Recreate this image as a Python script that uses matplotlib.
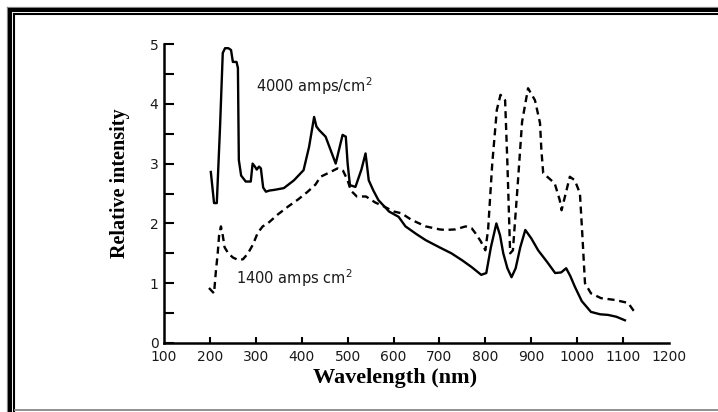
import matplotlib.pyplot as plt
from matplotlib.lines import Line2D

# 4000 amps/cm2 (solid)
wl_hi = [202, 209, 215, 222, 228, 233, 240, 246, 250, 252, 258, 261, 263, 268, 278, 289, 293, 298,
         302, 307, 311, 316, 322, 330, 340, 361, 383, 404, 416, 427, 432, 438, 452, 474, 489, 496,
         500, 505, 517, 530, 539, 546, 556, 567, 590, 611, 626, 650, 670, 700, 726, 750, 770, 791,
         802, 812, 824, 832, 839, 848, 857, 866, 876, 887, 900, 915, 935, 952, 965, 976, 985, 995,
         1010, 1030, 1050, 1067, 1085, 1104]
int_hi = [2.86, 2.34, 2.34, 3.6, 4.85, 4.93, 4.93, 4.9, 4.7, 4.7, 4.7, 4.6, 3.06, 2.8, 2.7, 2.7, 3.0, 2.95,
          2.9, 2.95, 2.92, 2.6, 2.53, 2.55, 2.56, 2.59, 2.72, 2.89, 3.28, 3.78, 3.62, 3.56, 3.45, 3.0, 3.48, 3.45,
          3.0, 2.64, 2.61, 2.9, 3.17, 2.72, 2.55, 2.39, 2.2, 2.11, 1.95, 1.82, 1.72, 1.6, 1.5, 1.38, 1.27, 1.14,
          1.17, 1.6, 2.0, 1.8, 1.5, 1.25, 1.1, 1.25, 1.6, 1.89, 1.75, 1.55, 1.35, 1.17, 1.18, 1.25, 1.12, 0.94,
          0.7, 0.52, 0.48, 0.47, 0.44, 0.38]

# 1400 amps/cm2 (dashed)
wl_lo = [198, 209, 213, 217, 220, 224, 228, 232, 240, 250, 261, 272, 283, 294, 304, 315, 326, 348,
         370, 392, 413, 430, 441, 460, 478, 490, 500, 507, 520, 540, 560, 580, 600, 617, 639, 670,
         700, 713, 735, 757, 770, 778, 790, 800, 806, 815, 825, 833, 843, 848, 854, 860, 870, 880,
         893, 908, 919, 922, 926, 951, 962, 966, 984, 995, 1006, 1011, 1017, 1030, 1052, 1082,
         1111, 1122, 1128]
int_lo = [0.92, 0.83, 1.2, 1.5, 1.8, 1.95, 1.8, 1.6, 1.5, 1.43, 1.39, 1.4, 1.5, 1.65, 1.84, 1.95, 2.0, 2.15,
          2.28, 2.4, 2.53, 2.65, 2.78, 2.85, 2.92, 2.88, 2.72, 2.55, 2.45, 2.45, 2.35, 2.28, 2.2, 2.17, 2.06, 1.95,
          1.9, 1.89, 1.9, 1.95, 1.92, 1.84, 1.7, 1.55, 1.9, 3.0, 3.9, 4.15, 4.06, 3.0, 1.5, 1.55, 2.6, 3.7,
          4.26, 4.06, 3.68, 3.23, 2.84, 2.67, 2.39, 2.22, 2.78, 2.72, 2.5, 1.84, 1.0, 0.83, 0.75, 0.72,
          0.67, 0.55, 0.5]

x_ticks = [100, 200, 300, 400, 500, 600, 700, 800, 900, 1000, 1100, 1200]
y_ticks = [0, 1, 2, 3, 4, 5]

W, H = 718, 412
fig = plt.figure(figsize=(W / 100, H / 100), dpi=100)

def fx(px):
    return px / W

def fy(py):
    return 1 - py / H

# double border (top and left, bottom thin grey)
for lw, c, off in [(0.9, '#888888', 7.0), (2.9, 'black', 9.5), (1.5, 'black', 13.8)]:
    fig.add_artist(Line2D([fx(off), fx(off)], [fy(off), 0], lw=lw, color=c))
    fig.add_artist(Line2D([fx(off), 1], [fy(off), fy(off)], lw=lw, color=c))
fig.add_artist(Line2D([fx(15), 1], [fy(409.5), fy(409.5)], lw=1.3, color='#888888'))

ax = fig.add_axes([fx(164), fy(343), fx(669) - fx(164), fy(44) - fy(343)])
ax.plot(wl_hi, int_hi, color='black', lw=1.7)
ax.plot(wl_lo, int_lo, color='black', lw=1.7, ls=(0, (3, 2)))

ax.set_xlim(100, 1200)
ax.set_ylim(0, 5)
ax.spines['top'].set_visible(False)
ax.spines['right'].set_visible(False)
ax.spines['left'].set_linewidth(1.8)
ax.spines['bottom'].set_linewidth(1.8)

ax.set_xticks(x_ticks)
ax.set_xticklabels([str(t) for t in x_ticks])
ax.set_yticks(y_ticks)
ax.set_yticks([0.5, 1.5, 2.5, 3.5, 4.5], minor=True)
ax.tick_params(axis='x', direction='in', length=4, width=1.5, pad=5, labelsize=10, labelcolor='#1a1a1a')
ax.tick_params(axis='y', direction='in', length=7, width=1.5, pad=4, labelsize=10, labelcolor='#1a1a1a')
ax.tick_params(axis='y', which='minor', direction='in', length=7, width=1.5)
ax.xaxis.get_ticklines()[0].set_visible(False)
ax.xaxis.get_ticklines()[-2].set_visible(False)

ax.set_xlabel('Wavelength (nm)', family='Liberation Serif', weight='bold', fontsize=16, labelpad=3)
ax.set_ylabel('Relative intensity', family='Liberation Serif', weight='bold', fontsize=14.5, labelpad=14)
ax.xaxis.label.set_x(0.457)
ax.yaxis.label.set_y(0.535)

ax.text(300, 4.3, '4000 amps/cm$^2$', fontsize=10.5, color='#1a1a1a', va='center')
ax.text(256, 1.09, '1400 amps cm$^2$', fontsize=10.5, color='#1a1a1a', va='center')

fig.savefig('out.png', dpi=100)
